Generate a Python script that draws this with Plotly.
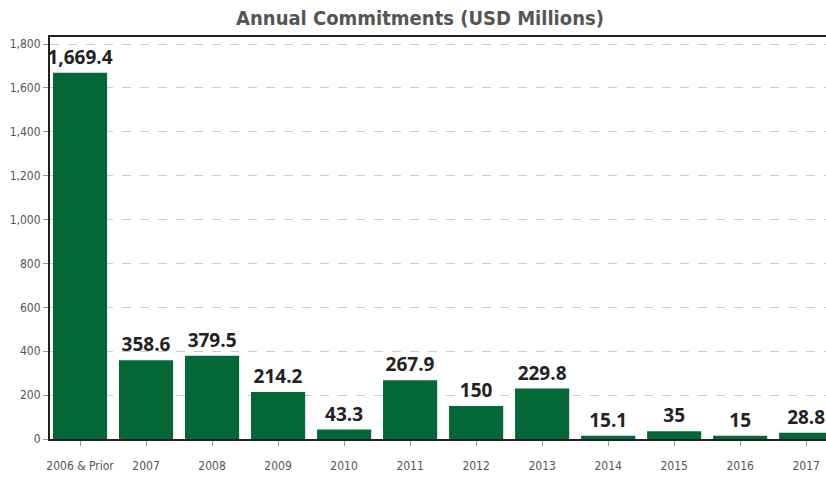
import plotly.graph_objects as go

categories = ["2006 & Prior", "2007", "2008", "2009", "2010", "2011",
              "2012", "2013", "2014", "2015", "2016", "2017"]
commitments = [1669.4, 358.6, 379.5, 214.2, 43.3, 267.9,
               150, 229.8, 15.1, 35, 15, 28.8]
y_ticks = [0, 200, 400, 600, 800, 1000, 1200, 1400, 1600, 1800]

labels = [f"{v:,}" for v in commitments]

COND = "Liberation Sans Narrow, DejaVu Sans Condensed, Roboto, sans-serif"

fig = go.Figure(go.Bar(
    x=categories,
    y=commitments,
    text=labels,
    textposition="outside",
    constraintext="none",
    cliponaxis=False,
    textfont=dict(family="Open Sans, sans-serif", size=19, color="#222222", weight="bold"),
    marker=dict(color="#036836", line=dict(width=0)),
))

fig.update_layout(
    width=826, height=477,
    margin=dict(l=50, r=0, t=37, b=38),
    paper_bgcolor="white", plot_bgcolor="white",
    bargap=0.18,
    showlegend=False,
    title=dict(
        text="<b>Annual Commitments (USD Millions)</b>",
        x=420 / 826, xanchor="center", y=0.962, yanchor="middle",
        font=dict(family=COND, size=20, color="#555555"),
    ),
    xaxis=dict(
        type="category",
        range=[-0.455, 11.30],
        showline=True, linecolor="#222222", linewidth=2, mirror=True,
        ticks="outside", ticklen=5, tickcolor="#999999",
        tickfont=dict(family=COND, size=12, color="#555555"),
        showgrid=False,
        ticklabelstandoff=10,
    ),
    yaxis=dict(
        range=[0, 1832],
        tickvals=y_ticks,
        tickformat=",",
        showline=True, linecolor="#222222", linewidth=2, mirror=False,
        ticks="outside", ticklen=5, tickcolor="#999999",
        tickfont=dict(family=COND, size=12, color="#555555"),
        showgrid=True, gridcolor="#cccccc", griddash="dash", gridwidth=1,
        zeroline=False,
    ),
)

fig.write_html("out.html")
